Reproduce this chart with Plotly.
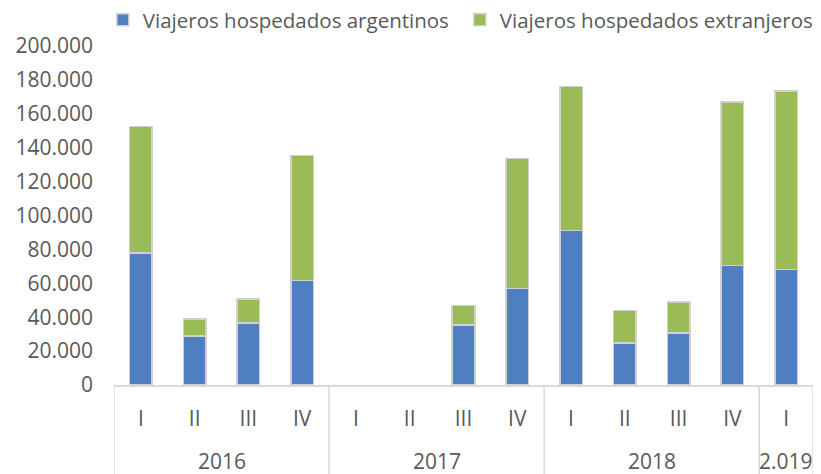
import plotly.graph_objects as go

years = ["2016", "2017", "2018", "2.019"]
year_counts = [4, 4, 4, 1]
quarters = ["I", "II", "III", "IV", "I", "II", "III", "IV", "I", "II", "III", "IV", "I"]
argentinos = [77800, 29000, 36500, 61800, None, None, 35300, 57000, 91200, 24700, 30800, 70600, 68200]
extranjeros = [74600, 9800, 14100, 73500, None, None, 11700, 76500, 84800, 19400, 18200, 96400, 105300]

# unique category keys (year + quarter) built from the lists above
year_of_cat = [y for y, n in zip(years, year_counts) for _ in range(n)]
cats = [f"{y} {q}" for y, q in zip(year_of_cat, quarters)]

font_fam = "'Open Sans', sans-serif"
txt = "#595959"
grid = "#d9d9d9"

fig = go.Figure()
fig.add_trace(go.Bar(
    x=cats, y=argentinos, name="Viajeros hospedados argentinos",
    marker=dict(color="#4f7fc0", line=dict(color="#d0d0d0", width=1.5)),
))
fig.add_trace(go.Bar(
    x=cats, y=extranjeros, name="Viajeros hospedados extranjeros",
    marker=dict(color="#9bbb59", line=dict(color="#d0d0d0", width=1.5)),
))

W, H = 821, 474
ml, mr, mt, mb = 114, 8, 46, 89
ph = H - mt - mb

def py(pix):
    """pixel row -> paper y"""
    return (H - mb - pix) / ph

# year labels and group dividers
start = 0
bounds = [-0.5]
for y, n in zip(years, year_counts):
    fig.add_annotation(x=start + (n - 1) / 2, y=py(461), xref="x", yref="paper",
                       text=y, showarrow=False, yanchor="middle",
                       font=dict(family=font_fam, size=21, color=txt))
    start += n
    bounds.append(start - 0.5)
for b in bounds:
    fig.add_shape(type="line", xref="x", yref="paper", x0=b, x1=b, y0=0, y1=py(474),
                  line=dict(color=grid, width=1.5))

fig.update_layout(
    barmode="stack",
    bargap=0.58,
    width=W, height=H,
    margin=dict(l=ml, r=mr, t=mt, b=mb, autoexpand=False),
    plot_bgcolor="white", paper_bgcolor="white",
    separators=",.",
    font=dict(family=font_fam, size=21, color=txt),
    legend=dict(orientation="h", x=-0.016, xanchor="left", y=py(20), yanchor="middle",
                font=dict(size=20.5, color=txt), traceorder="normal",
                itemwidth=30, entrywidth=312, entrywidthmode="pixels",
                bgcolor="rgba(0,0,0,0)"),
    showlegend=True,
)
fig.update_yaxes(range=[0, 200000], dtick=20000, tickformat=",d", showgrid=False,
                 zeroline=False, showline=False, ticks="", ticklabelstandoff=20,
                 tickfont=dict(size=21, color=txt))
fig.update_xaxes(range=[-0.5, len(cats) - 0.5], showline=True, linecolor=grid, linewidth=2,
                 ticks="", tickvals=cats, ticktext=quarters, ticklabelstandoff=14,
                 tickfont=dict(size=21, color=txt))

fig.write_html("out.html", config={"displayModeBar": False},
               post_script="document.body.style.margin='0';document.body.style.overflow='hidden';")
